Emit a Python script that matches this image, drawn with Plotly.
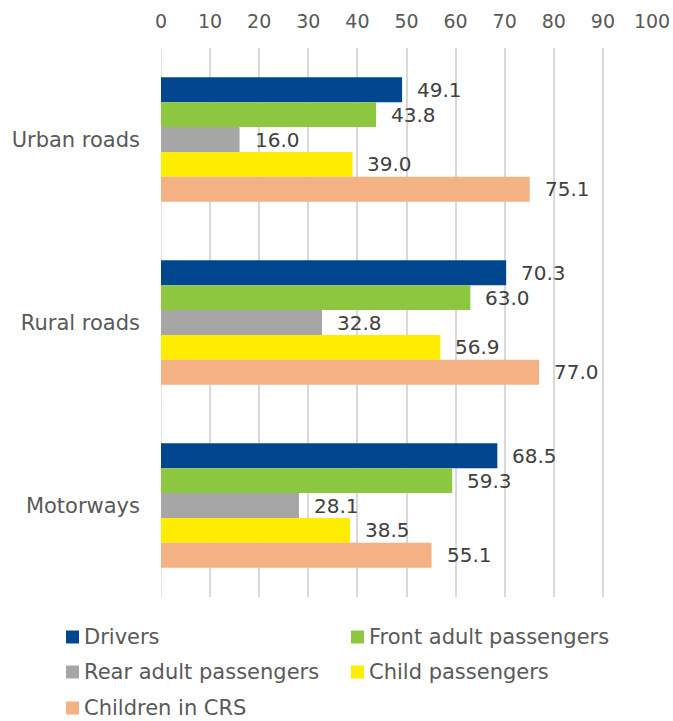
import plotly.graph_objects as go

# Road types (top to bottom) and the share per occupant group
road_types = ["Urban roads", "Rural roads", "Motorways"]
series_names = [
    "Drivers",
    "Front adult passengers",
    "Rear adult passengers",
    "Child passengers",
    "Children in CRS",
]
drivers = [49.1, 70.3, 68.5]
front_adult = [43.8, 63.0, 59.3]
rear_adult = [16.0, 32.8, 28.1]
child_passengers = [39.0, 56.9, 38.5]
children_crs = [75.1, 77.0, 55.1]
x_ticks = [0, 10, 20, 30, 40, 50, 60, 70, 80, 90, 100]

series_values = [drivers, front_adult, rear_adult, child_passengers, children_crs]
colors = ["#00468E", "#8DC63F", "#A6A6A6", "#FFED00", "#F4B183"]

label_font = "'DejaVu Sans', Verdana, sans-serif"
text_color = "#595959"

W, H = 673, 721
M_L, M_R, M_T, M_B = 161, 21, 48, 124
plot_w = W - M_L - M_R
plot_h = H - M_T - M_B


def px_to_paper_x(px):
    return (px - M_L) / plot_w


def px_to_paper_y(py):
    return (H - M_B - py) / plot_h


fig = go.Figure()
for name, vals, col in zip(series_names, series_values, colors):
    fig.add_trace(go.Bar(
        y=road_types,
        x=vals,
        name=name,
        orientation="h",
        marker=dict(color=col, line=dict(width=0)),
        hoverinfo="x+name",
        showlegend=False,
    ))

fig.update_layout(
    barmode="group",
    bargap=0.32,
    bargroupgap=0.0,
    width=W,
    height=H,
    margin=dict(l=M_L, r=M_R, t=M_T, b=M_B),
    paper_bgcolor="white",
    plot_bgcolor="white",
    font=dict(family=label_font, size=20, color=text_color),
    showlegend=False,
    xaxis=dict(
        side="top",
        range=[0, 100],
        tickvals=x_ticks,
        showgrid=True,
        gridcolor="#D9D9D9",
        gridwidth=1.5,
        zeroline=False,
        showline=False,
        ticks="",
        ticklabelstandoff=15,
        tickfont=dict(family=label_font, size=19, color=text_color),
        automargin=False,
        fixedrange=True,
    ),
    yaxis=dict(
        autorange="reversed",
        showgrid=False,
        zeroline=False,
        showline=False,
        ticks="",
        ticklabelstandoff=20,
        tickfont=dict(family=label_font, size=21, color=text_color),
        automargin=False,
        fixedrange=True,
    ),
)

# Vertical grid line at zero
fig.add_shape(type="line", xref="x", yref="paper", x0=0, x1=0, y0=0, y1=1,
              line=dict(color="#D9D9D9", width=1.5), layer="below")

# Value labels placed just past the end of each bar
n = len(series_names)
group_width = 1 - 0.32
bar_h = group_width / n
for i, (name, vals) in enumerate(zip(series_names, series_values)):
    for j, v in enumerate(vals):
        offset = -group_width / 2 + bar_h * (i + 0.5)
        fig.add_annotation(
            x=v, y=j + offset, xref="x", yref="y",
            text=f"{v:.1f}", showarrow=False,
            xanchor="left", yanchor="middle", xshift=13,
            font=dict(family=label_font, size=20, color="#404040"),
        )

# Two-column legend below the plot: colour square followed by the series name
col_square_x = [66, 351]
row_center_y = [637, 672, 708]
sq = 13
for k, (name, col) in enumerate(zip(series_names, colors)):
    r, c = divmod(k, 2)
    sx = col_square_x[c]
    cy = row_center_y[r]
    fig.add_shape(
        type="rect", xref="paper", yref="paper",
        x0=px_to_paper_x(sx), x1=px_to_paper_x(sx + sq),
        y0=px_to_paper_y(cy + sq / 2), y1=px_to_paper_y(cy - sq / 2),
        fillcolor=col, line=dict(width=0),
    )
    fig.add_annotation(
        x=px_to_paper_x(sx + sq + 3), y=px_to_paper_y(cy),
        xref="paper", yref="paper",
        text=name, showarrow=False,
        xanchor="left", yanchor="middle",
        font=dict(family=label_font, size=21, color=text_color),
    )

fig.write_html("out.html")
